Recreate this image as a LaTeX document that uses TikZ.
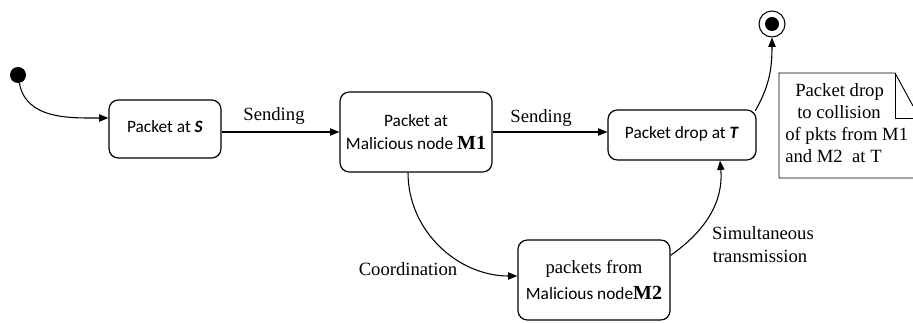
\documentclass[tikz,border=0pt]{standalone}
\usepackage{fontspec}
\setmainfont{Liberation Serif}
\newfontfamily\boxfont{Carlito}
\usetikzlibrary{arrows.meta}
\begin{document}
\begin{tikzpicture}[x=0.75pt,y=-0.75pt,
  state/.style={draw, rounded corners=7pt, line width=0.9pt, inner sep=0pt,
    font=\boxfont\fontsize{13}{17}\selectfont, align=center},
  flow/.style={-{Triangle[length=7pt,width=5.5pt]}, line width=0.8pt},
  lbl/.style={font=\fontsize{14}{17}\selectfont, inner sep=0pt},
  bigid/.style={}]
\useasboundingbox (0,0) rectangle (913,323);

% initial and final pseudo-states
\node[circle, fill, minimum size=12pt, inner sep=0pt] (start) at (18,75) {};
\node[circle, draw, line width=0.8pt, minimum size=19.5pt, inner sep=0pt] (final) at (772,24) {};
\node[circle, fill, minimum size=10.5pt, inner sep=0pt] (finaldot) at (final) {};

% states
\node[state, minimum width=84pt, minimum height=43.5pt] (S) at (165,129)
  {\raisebox{4.5pt}{Packet at \textbf{\textit{S}}}};
\node[state, minimum width=114pt, minimum height=60pt] (M1) at (416,132)
  {Packet at\\Malicious node {\rmfamily\bfseries\fontsize{15}{17}\selectfont M1}};
\node[state, minimum width=111pt, minimum height=37.5pt] (T) at (682,135)
  {\raisebox{4.5pt}{Packet drop at \textbf{\textit{T}}}};
\node[state, minimum width=114pt, minimum height=60pt] (M2) at (594,280)
  {{\rmfamily\fontsize{14}{23}\selectfont packets from}\\[2pt]
   Malicious node{\rmfamily\bfseries\fontsize{15}{17}\selectfont M2}};

% transitions
\draw[flow] (start) to[out=-80, in=180] ([yshift=8.25pt]S.west);
\draw[flow] (S.east |- M1.west) -- (M1.west);
\draw[flow] (M1.east) -- (M1.east -| T.west);
\draw[flow] ([xshift=-6pt]M1.south) to[out=-90, in=180] ([yshift=3pt]M2.west);
\draw[flow] ([yshift=-12pt]M2.north east) to[out=35, in=-85] ([xshift=28.5pt]T.south);
\draw[flow] ([xshift=-1pt,yshift=-1pt]T.north east) to[out=60, in=-90] (final.south);

% transition labels
\node[lbl] (send1) at (274,116) {Sending};
\node[lbl] (send2) at (541,118) {Sending};
\node[lbl] (coord) at (408,269) {Coordination};
\node[lbl] (simul) at (763,233) {Simultaneous};
\node[lbl] (trans) at (760,256) {transmission};

% note with folded corner
\draw[line width=0.7pt] (913,178) -- (779,178) -- (779,73) -- (895,73) -- (913,106);
\draw[line width=0.7pt] (895,73) -- (895,118) -- (913,118);
\node[anchor=north west, inner sep=0pt, align=left,
  font=\fontsize{14}{16.5}\selectfont] (note) at (785,83)
  {\hspace{7.5pt}Packet drop\\ \hspace{9pt}to collision\\of pkts from M1\\and M2\ \ at T};
\end{tikzpicture}
\end{document}
